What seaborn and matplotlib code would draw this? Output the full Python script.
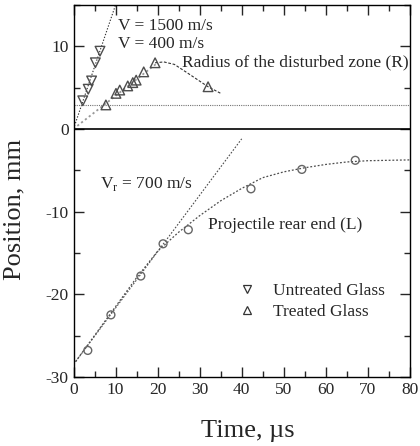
import matplotlib
matplotlib.use("Agg")
import matplotlib.pyplot as plt
from matplotlib.lines import Line2D
from matplotlib.ticker import MultipleLocator
import seaborn as sns

# punti (tempo in us, posizione in mm)
untreated_t = [2.2, 3.5, 4.3, 5.2, 6.3]
untreated_pos = [3.4, 4.8, 5.8, 8.0, 9.4]

treated_t = [7.7, 10.1, 11.0, 12.9, 14.1, 14.9, 16.7, 19.4, 32.0]
treated_pos = [2.9, 4.3, 4.7, 5.2, 5.6, 5.9, 6.9, 8.0, 5.1]

rear_t = [3.4, 8.9, 16.0, 21.3, 27.3, 42.2, 54.3, 67.0]
rear_pos = [-26.8, -22.5, -17.8, -13.9, -12.2, -7.25, -4.9, -3.8]

# curve e rette di riferimento
rear_fit_t = [0, 5, 10, 15, 20, 25, 30, 35, 40, 45, 50, 55, 60, 65, 70, 75, 80]
rear_fit_pos = [-28.5, -25.0, -21.5, -18.0, -14.8, -12.5, -10.5, -8.7, -7.2,
                -5.9, -5.2, -4.7, -4.3, -4.0, -3.85, -3.8, -3.75]

radius_fit_t = [19.4, 21.5, 24.0, 27.0, 32.0, 35.0]
radius_fit_pos = [8.0, 8.1, 7.8, 6.8, 5.1, 4.3]

v1500_t = [0, 10]
v1500_pos = [0, 15]
v400_t = [0, 20]
v400_pos = [0, 8]
vr_t = [0, 40]
vr_pos = [-28.5, -1.2]
level_t = [0, 80]
level_pos = [2.9, 2.9]

sns.set_style("ticks")
plt.rcParams["font.family"] = ["Liberation Serif", "DejaVu Serif"]
plt.rcParams["mathtext.fontset"] = "custom"
plt.rcParams["mathtext.rm"] = "Liberation Serif"
plt.rcParams["axes.unicode_minus"] = False

fig = plt.figure(figsize=(4.2, 4.46), dpi=100)
ax = fig.add_axes([0.175, 0.155, 0.801, 0.834])

# linee
sns.lineplot(x=v1500_t, y=v1500_pos, ax=ax, color="0.2", lw=0.8, linestyle=(0, (1.2, 1.5)))
sns.lineplot(x=v400_t, y=v400_pos, ax=ax, color="0.6", lw=1.3, linestyle=(0, (1.2, 1.5)))
sns.lineplot(x=radius_fit_t, y=radius_fit_pos, ax=ax, color="0.2", lw=0.8, linestyle=(0, (2.5, 1.5)))
sns.lineplot(x=level_t, y=level_pos, ax=ax, color="0.45", lw=0.8, linestyle=(0, (1, 1)))
sns.lineplot(x=vr_t, y=vr_pos, ax=ax, color="0.3", lw=0.8, linestyle=(0, (1.5, 1.5)))
sns.lineplot(x=rear_fit_t, y=rear_fit_pos, ax=ax, color="0.3", lw=0.9, linestyle=(0, (1.5, 1.5)))
ax.axhline(0, color="black", lw=1.2)

# punti
sns.scatterplot(x=untreated_t, y=untreated_pos, ax=ax, marker="v", s=48,
                facecolor="none", edgecolor="0.3", linewidth=1.0, zorder=4)
sns.scatterplot(x=treated_t, y=treated_pos, ax=ax, marker="^", s=48,
                facecolor="none", edgecolor="0.3", linewidth=1.0, zorder=4)
sns.scatterplot(x=rear_t, y=rear_pos, ax=ax, marker="o", s=32,
                facecolor="none", edgecolor="0.4", linewidth=1.0, zorder=4)

# testi
fs = 12.5
ax.text(10.5, 12.4, "V = 1500 m/s", fontsize=fs, va="center", ha="left")
ax.text(10.5, 10.3, "V = 400 m/s", fontsize=fs, va="center", ha="left")
ax.text(25.7, 8.05, "Radius of the disturbed zone (R)", fontsize=fs, va="center", ha="left")
ax.text(6.3, -6.7, r"V$_\mathregular{r}$ = 700 m/s", fontsize=fs, va="center", ha="left")
ax.text(32.0, -11.6, "Projectile rear end (L)", fontsize=fs, va="center", ha="left")

# legenda
handles = [
    Line2D([], [], ls="none", marker="v", ms=5.5, mfc="none", mec="0.2", mew=0.9),
    Line2D([], [], ls="none", marker="^", ms=5.5, mfc="none", mec="0.2", mew=0.9),
]
ax.legend(handles, ["Untreated Glass", "Treated Glass"], loc="center left",
          bbox_to_anchor=(0.4886, 0.203), frameon=False, fontsize=fs,
          handlelength=1.0, handletextpad=1.0, labelspacing=0.25,
          borderpad=0, borderaxespad=0)

ax.set_xlim(0, 80)
ax.set_ylim(-30, 15)
ax.xaxis.set_major_locator(MultipleLocator(10))
ax.xaxis.set_minor_locator(MultipleLocator(5))
ax.yaxis.set_major_locator(MultipleLocator(10))
ax.yaxis.set_minor_locator(MultipleLocator(5))
ax.tick_params(which="both", direction="in", top=True, right=True, labelsize=12.5, width=1.0)
ax.tick_params(which="major", length=7)
ax.tick_params(which="minor", length=4)
for sp in ax.spines.values():
    sp.set_linewidth(1.0)
    sp.set_color("black")

ax.set_xlabel("Time, µs", fontsize=19)
ax.set_ylabel("Position, mm", fontsize=19)
ax.xaxis.set_label_coords(0.518, -0.116)
ax.yaxis.set_label_coords(-0.142, 0.449)

fig.savefig("out.png", dpi=100)
